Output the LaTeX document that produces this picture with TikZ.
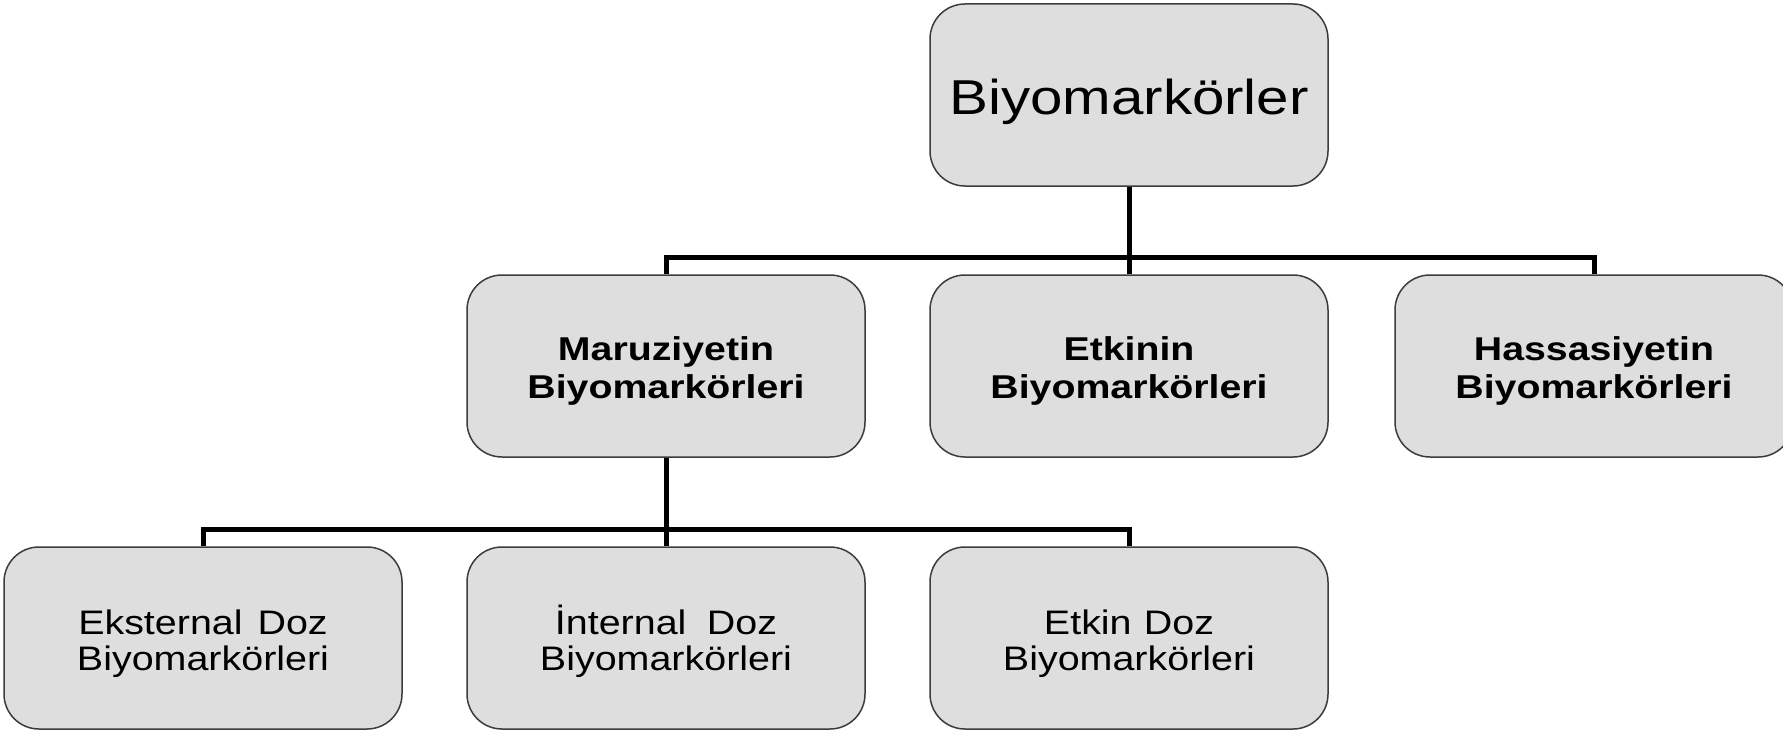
\documentclass[tikz,border=0pt]{standalone}
\usepackage{fontspec}
\setmainfont{Liberation Sans}[FakeStretch=1.19]
\newfontfamily\topfont{Liberation Sans}[FakeStretch=1.19]
\newfontfamily\lowfont{Liberation Sans}[FakeStretch=1.16]
\definecolor{boxfill}{HTML}{DEDEDE}
\definecolor{boxline}{HTML}{3C3C3C}
\tikzset{
  bx/.style={draw=boxline, line width=1.5pt, fill=boxfill, rounded corners=35pt,
    minimum width=398pt, minimum height=182pt, inner sep=0pt, align=center, text=black},
  topbox/.style={bx, font=\topfont\fontsize{49}{58}\selectfont, text height=40pt, text depth=0pt},
  midbox/.style={bx, font=\bfseries\fontsize{33}{38}\selectfont, text height=65pt, text depth=0pt},
  lowbox/.style={bx, font=\lowfont\fontsize{34}{36}\selectfont, text height=64pt, text depth=0pt},
  conn/.style={draw=black, line width=5pt}
}
\begin{document}
\begin{tikzpicture}[x=1pt,y=-1pt]
\clip (0,0) rectangle (1783,733);
\fill[white] (0,0) rectangle (1783,733);
\node[topbox] (top) at (1129,95) {Biyomarkörler};
\node[midbox] (m) at (666,366) {Maruziyetin\\Biyomarkörleri};
\node[midbox] (e) at (1129,366) {Etkinin\\Biyomarkörleri};
\node[midbox] (h) at (1594,366) {Hassasiyetin\\Biyomarkörleri};
\node[lowbox] (ex) at (203,638) {Eksternal\hspace{0.44em}Doz\\Biyomarkörleri};
\node[lowbox] (in) at (666,638) {İnternal\hspace{0.6em}Doz\\Biyomarkörleri};
\node[lowbox] (ed) at (1129,638) {Etkin\hspace{0.36em}Doz\\Biyomarkörleri};
\draw[conn] (top.south) -- (e.north);
\draw[conn] (m.north) -- ++(0,-17) -| (h.north);
\draw[conn] (m.south) -- (in.north);
\draw[conn] (ex.north) -- ++(0,-17) -| (ed.north);
\end{tikzpicture}
\end{document}
